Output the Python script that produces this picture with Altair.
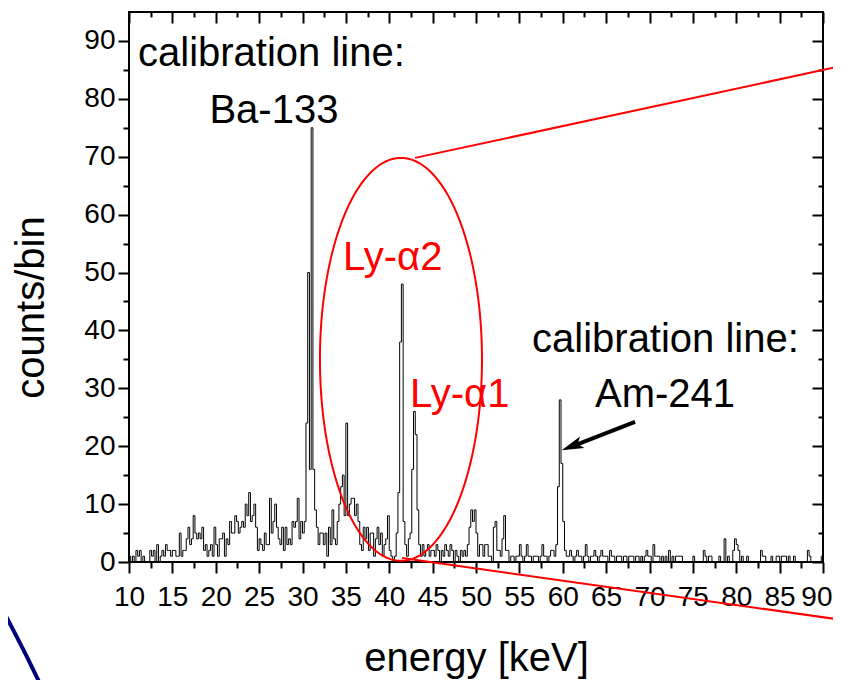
import altair as alt
import pandas as pd
import numpy as np

FONT = "Liberation Sans, Arial, sans-serif"

# ---------------- spectrum (counts per 0.2 keV bin) ----------------
bin_width = 0.2
x_start = 10.0
g10 = [1,0,1,0,2,1,2,0,1,0,0,0,2,1,2,0,3,0,1,2,1,3,2,2,1]
g15 = [2,2,1,1,5,1,2,2,4,6,3,4,8,5,4,5,4,6,2,3,1,2,3,1,6]
g20 = [3,1,4,4,5,1,4,3,7,5,5,8,7,5,6,7,6,10,8,12,7,8,10,6,2]
g25 = [4,3,2,5,3,3,11,5,7,10,6,4,3,6,2,6,3,4,3,7,6,7,11,4,7]
g30 = [5,7,24,50,16,75,16,9,6,3,5,5,3,5,1,6,3,9,4,3,7,10,13,15,8]
g35 = [24,8,10,11,11,8,10,7,3,2,6,4,6,2,5,5,1,4,6,3,5,1,3,4,8]
g40 = [2,1,0,1,5,12,38,48,7,3,1,4,5,16,26,22,9,3,1,3,1,2,3,1,2]
g45 = [2,1,3,2,0,2,1,3,2,1,3,2,0,2,1,0,2,1,2,1,3,6,9,7,9]
g50 = [5,1,3,3,1,3,3,1,1,0,6,7,2,2,1,4,8,2,2,0,1,1,0,1,1]
g55 = [3,1,0,1,3,1,1,0,1,1,1,0,1,3,1,1,0,1,2,2,1,3,13,28,17]
g60 = [7,2,1,1,2,1,0,1,2,1,1,0,1,3,1,0,1,1,2,1,0,1,2,1,1]
g65 = [1,0,2,1,1,0,1,1,1,0,1,1,0,1,1,1,0,1,1,0,1,0,1,2,1]
g70 = [1,0,3,1,1,1,0,1,0,1,0,2,0,1,0,1,1,1,1,0,0,0,0,0,0]
g75 = [1,0,0,0,0,0,2,1,0,1,1,0,0,0,0,1,0,0,4,0,1,0,0,2,4]
g80 = [3,2,0,1,0,0,1,0,0,0,0,0,0,0,2,1,1,0,0,0,1,0,0,1,1]
g85 = [0,1,1,1,0,1,0,0,1,0,0,0,0,0,0,0,2,1,0,0,0,0,0,0,1]
counts = g10 + g15 + g20 + g25 + g30 + g35 + g40 + g45 + g50 + g55 + g60 + g65 + g70 + g75 + g80 + g85

# ---------------- axes ----------------
x_domain = [10, 90]
y_domain = [0, 95]
x_major = [10, 15, 20, 25, 30, 35, 40, 45, 50, 55, 60, 65, 70, 75, 80, 85, 90]
x_minor = [12.5, 17.5, 22.5, 27.5, 32.5, 37.5, 42.5, 47.5, 52.5, 57.5, 62.5, 67.5, 72.5, 77.5, 82.5, 87.5]
y_major = [0, 10, 20, 30, 40, 50, 60, 70, 80, 90]
y_minor = [5, 15, 25, 35, 45, 55, 65, 75, 85]

# ---------------- annotations (data units) ----------------
ellipse_center = (41.35, 35.0)
ellipse_semi = (9.34, 34.8)
zoom_line_x = [42.97, 92.2, 41.47, 92.2]
zoom_line_y = [69.8, 85.7, 0.69, -10.0]
zoom_line_id = ["upper", "upper", "lower", "lower"]
arrow_x = [68.33, 61.3]
arrow_y = [24.2, 20.1]
arrow_head_x = [61.06]
arrow_head_y = [20.0]
arc_x = [-4.87, -3.95, -2.95, -1.76, -0.46, 0.6]
arc_y = [-7.43, -10.0, -12.9, -16.4, -20.4, -23.5]

label_black_left = ["calibration line:", "calibration line:"]
label_black_left_x = [11.04, 56.46]
label_black_left_y = [85.6, 36.3]
label_black_center = ["Ba-133", "Am-241"]
label_black_center_x = [26.7, 71.79]
label_black_center_y = [75.8, 26.8]
label_red = ["Ly-\u03b12", "Ly-\u03b11"]
label_red_x = [34.67, 42.39]
label_red_y = [50.4, 26.8]

# ---------------- data frames ----------------
edges = [x_start + bin_width * i for i in range(len(counts))] + [90.0]
spec_df = pd.DataFrame({"energy": edges, "counts": counts + [counts[-1]]})

t = np.linspace(0, 2 * np.pi, 241)
ell_df = pd.DataFrame({
    "energy": ellipse_center[0] + ellipse_semi[0] * np.cos(t),
    "counts": ellipse_center[1] + ellipse_semi[1] * np.sin(t),
    "order": np.arange(len(t)),
})
zl_df = pd.DataFrame({"energy": zoom_line_x, "counts": zoom_line_y, "id": zoom_line_id})
arrow_df = pd.DataFrame({"energy": arrow_x, "counts": arrow_y})
head_df = pd.DataFrame({"energy": arrow_head_x, "counts": arrow_head_y})
arc_df = pd.DataFrame({"energy": arc_x, "counts": arc_y, "order": range(len(arc_x))})
tbl_df = pd.DataFrame({"energy": label_black_left_x, "counts": label_black_left_y, "txt": label_black_left})
tbc_df = pd.DataFrame({"energy": label_black_center_x, "counts": label_black_center_y, "txt": label_black_center})
tr_df = pd.DataFrame({"energy": label_red_x, "counts": label_red_y, "txt": label_red})

xs = alt.Scale(domain=x_domain, nice=False, zero=False)
ys = alt.Scale(domain=y_domain, nice=False, zero=False)

tick_common = dict(domain=False, grid=False, tickColor="black", tickWidth=2)

last_label_test = "datum.value === 90"
ax_x_bottom_major = alt.Axis(
    orient="bottom", values=x_major, tickSize=11, labelPadding=10, format="d",
    labelFont=FONT, labelFontSize=28, labelColor="black", labelFlush=False, labelOverlap=False,
    labelAlign={"condition": {"test": last_label_test, "value": "right"}, "value": "center"},
    labelOffset={"condition": {"test": last_label_test, "value": 9}, "value": 0},
    title="energy [keV]", titleFont=FONT, titleFontSize=40, titleFontWeight="normal",
    titleColor="black", titleX=347, titleY=108, titleBaseline="alphabetic", titleAlign="center",
    **tick_common)
ax_y_left_major = alt.Axis(
    orient="left", values=y_major, tickSize=11, labelPadding=3, format="d",
    labelFont=FONT, labelFontSize=28, labelColor="black", labelOverlap=False,
    title="counts/bin", titleFont=FONT, titleFontSize=40, titleFontWeight="normal",
    titleColor="black", titleAngle=270, titleX=-86, titleY=295, titleBaseline="alphabetic",
    titleAlign="center", **tick_common)
ax_x_bottom_minor = alt.Axis(orient="bottom", values=x_minor, tickSize=6, labels=False, title=None, **tick_common)
ax_y_left_minor = alt.Axis(orient="left", values=y_minor, tickSize=6, labels=False, title=None, **tick_common)
ax_x_top_major = alt.Axis(orient="top", values=x_major, tickSize=11, offset=-11, labels=False, title=None, **tick_common)
ax_y_right_major = alt.Axis(orient="right", values=y_major, tickSize=11, offset=-11, labels=False, title=None, **tick_common)
ax_x_top_minor = alt.Axis(orient="top", values=x_minor, tickSize=5, offset=-5, labels=False, title=None, **tick_common)
ax_y_right_minor = alt.Axis(orient="right", values=y_minor, tickSize=5, offset=-5, labels=False, title=None, **tick_common)

spectrum = alt.Chart(spec_df).mark_line(
    interpolate="step-after", color="black", strokeWidth=1
).encode(
    x=alt.X("energy:Q", scale=xs, axis=ax_x_bottom_major),
    y=alt.Y("counts:Q", scale=ys, axis=ax_y_left_major),
)

ellipse = alt.Chart(ell_df).mark_line(color="#ff0000", strokeWidth=2).encode(
    x=alt.X("energy:Q", scale=xs, axis=ax_x_bottom_minor),
    y=alt.Y("counts:Q", scale=ys, axis=ax_y_left_minor),
    order="order:Q",
)

zoom_lines = alt.Chart(zl_df).mark_line(color="#ff0000", strokeWidth=2).encode(
    x=alt.X("energy:Q", scale=xs, axis=ax_x_top_major),
    y=alt.Y("counts:Q", scale=ys, axis=ax_y_right_major),
    detail="id:N",
)

arrow = alt.Chart(arrow_df).mark_line(color="black", strokeWidth=4).encode(
    x=alt.X("energy:Q", scale=xs, axis=ax_x_top_minor),
    y=alt.Y("counts:Q", scale=ys, axis=ax_y_right_minor),
)

head = alt.Chart(head_df).mark_point(
    shape="M 0,-1 L 0.55,1 L 0,0.55 L -0.55,1 Z", filled=True, color="black",
    opacity=1, size=484, angle=249, strokeWidth=0
).encode(
    x=alt.X("energy:Q", scale=xs, axis=None),
    y=alt.Y("counts:Q", scale=ys, axis=None),
)

arc = alt.Chart(arc_df).mark_line(color="#00007f", strokeWidth=4, interpolate="natural").encode(
    x=alt.X("energy:Q", scale=xs, axis=None),
    y=alt.Y("counts:Q", scale=ys, axis=None),
    order="order:Q",
)

def text_layer(df, align, color):
    return alt.Chart(df).mark_text(
        align=align, baseline="alphabetic", font=FONT, fontSize=40, color=color
    ).encode(
        x=alt.X("energy:Q", scale=xs, axis=None),
        y=alt.Y("counts:Q", scale=ys, axis=None),
        text="txt:N",
    )

texts = [
    text_layer(tbl_df, "left", "black"),
    text_layer(tbc_df, "center", "black"),
    text_layer(tr_df, "left", "#ff0000"),
]

chart = alt.layer(
    spectrum, ellipse, zoom_lines, arrow, head, arc, *texts
).resolve_axis(
    x="independent", y="independent"
).properties(
    width=694, height=550,
    padding={"left": 121, "top": 4, "right": 10, "bottom": 118},
    autosize=alt.AutoSizeParams(type="none"),
    background="white",
).configure_view(
    stroke="black", strokeWidth=2
)

chart.save("out.html", embed_options={"renderer": "svg", "actions": False})
